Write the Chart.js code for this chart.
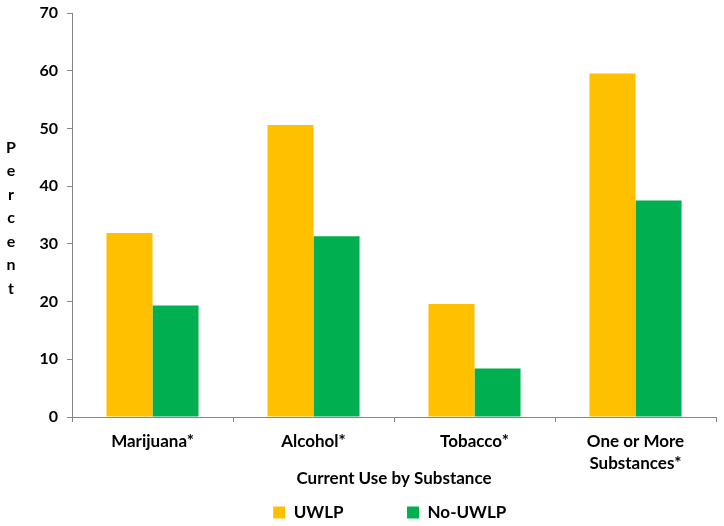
<!DOCTYPE html>
<html><head><meta charset="utf-8">
<script src="https://cdn.jsdelivr.net/npm/chart.js@4.4.1/dist/chart.umd.min.js"></script>
<style>html,body{margin:0;padding:0;background:#fff}#wrap{width:724px;height:526px;position:relative}</style>
</head><body><div id="wrap"><canvas id="c"></canvas></div>
<script>
const categories = [["Marijuana*"], ["Alcohol*"], ["Tobacco*"], ["One or More", "Substances*"]];
const uwlpValues = [31.9, 50.6, 19.6, 59.5];
const noUwlpValues = [19.3, 31.3, 8.4, 37.5];
const seriesNames = ["UWLP", "No-UWLP"];
const yTickMin = 0, yTickMax = 70, yTickStep = 10;
const xAxisTitle = "Current Use by Substance";
const yAxisTitle = "Percent";

const FONT = "Lato, 'Liberation Sans', sans-serif";
const AXIS = "#868686";
const LEGEND_GAP = "\u2003\u2003\u2003\u2003\u2002";
const LEGEND_TAIL = "\u2002";

const verticalTitle = {
  id: 'verticalTitle',
  afterDraw(chart) {
    const ctx = chart.ctx, a = chart.chartArea;
    const letters = yAxisTitle.split('');
    const step = 23.5;
    const mid = (a.top + a.bottom) / 2 + 3;
    const start = mid - step * (letters.length - 1) / 2;
    ctx.save();
    ctx.fillStyle = '#000';
    ctx.font = "bold 16px " + FONT;
    ctx.textAlign = 'center';
    ctx.textBaseline = 'middle';
    letters.forEach((ch, i) => ctx.fillText(ch, 11, start + i * step));
    ctx.restore();
  }
};

new Chart(document.getElementById('c'), {
  type: 'bar',
  data: {
    labels: categories,
    datasets: [
      { label: seriesNames[0], data: uwlpValues, backgroundColor: '#FFC000', categoryPercentage: 0.572, barPercentage: 1.0 },
      { label: seriesNames[1], data: noUwlpValues, backgroundColor: '#00B050', categoryPercentage: 0.572, barPercentage: 1.0 }
    ]
  },
  options: {
    responsive: true,
    maintainAspectRatio: false,
    animation: false,
    devicePixelRatio: 1,
    layout: { padding: { left: 0, right: 8, top: 1, bottom: -5 } },
    plugins: {
      tooltip: { enabled: false },
      legend: {
        position: 'bottom',
        fullSize: false,
        labels: {
          boxWidth: 12, boxHeight: 12, padding: 4, color: '#000',
          font: { family: FONT, size: 17, weight: 'bold' },
          generateLabels(chart) {
            const items = Chart.defaults.plugins.legend.labels.generateLabels(chart);
            items.forEach((it, i) => { it.text = it.text + (i < items.length - 1 ? LEGEND_GAP : LEGEND_TAIL); });
            return items;
          }
        }
      }
    },
    scales: {
      x: {
        offset: true,
        afterFit(s) { s.height = 83; },
        grid: { offset: true, drawOnChartArea: false, drawTicks: true, tickLength: 5, color: AXIS },
        border: { color: AXIS, width: 1 },
        ticks: { color: '#000', padding: 9, maxRotation: 0, font: { family: FONT, size: 17, weight: 'bold', lineHeight: 1.265 } },
        title: { display: true, text: xAxisTitle, color: '#000', padding: { top: 0, bottom: 11 }, font: { family: FONT, size: 17, weight: 'bold', lineHeight: 1.2 } }
      },
      y: {
        min: yTickMin, max: yTickMax,
        afterFit(s) { s.width = 72; },
        grid: { drawOnChartArea: false, drawTicks: true, tickLength: 5, color: AXIS },
        border: { color: AXIS, width: 1 },
        ticks: { stepSize: yTickStep, color: '#000', padding: 9, font: { family: FONT, size: 16, weight: 'bold', lineHeight: 0.5 } }
      }
    }
  },
  plugins: [verticalTitle]
});
</script></body></html>
